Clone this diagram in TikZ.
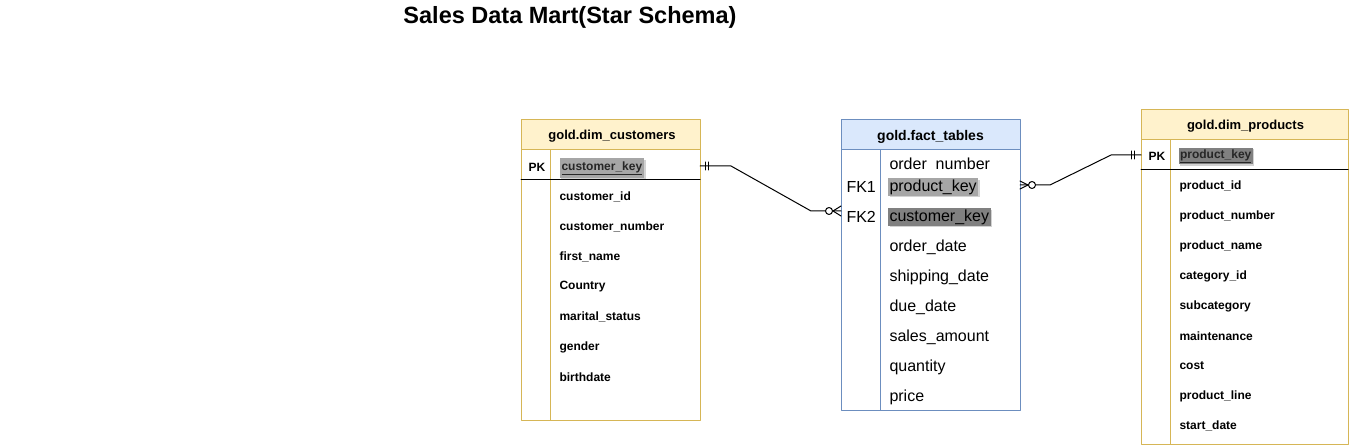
\documentclass[tikz,border=0pt]{standalone}
\usepackage{fontspec}
\setmainfont{Liberation Sans}
\usetikzlibrary{shadows}
\definecolor{dimline}{HTML}{D6B656}
\definecolor{dimfill}{HTML}{FFF2CC}
\definecolor{factline}{HTML}{6C8EBF}
\definecolor{factfill}{HTML}{DAE8FC}
\definecolor{keylight}{HTML}{A6A6A6}
\definecolor{keydark}{HTML}{808080}
\tikzset{
  every picture/.style={line join=round, line cap=round, line width=1pt},
  headtext/.style={inner sep=0pt,font=\fontsize{13}{15}\selectfont\bfseries},
  dimrow/.style={anchor=west,inner sep=0pt,font=\fontsize{12}{14}\selectfont\bfseries},
  factrow/.style={anchor=west,inner sep=0pt,font=\fontsize{16}{18}\selectfont},
  keymark/.style={inner sep=1.5pt,drop shadow={shadow xshift=1.5pt,shadow yshift=-1.5pt,opacity=0.35}},
}

\begin{document}
\begin{tikzpicture}[x=1pt,y=-1pt]
\useasboundingbox (0,0) rectangle (1351,446);
\node[font=\fontsize{23.5}{28}\selectfont\bfseries] (title) at (570,17) {Sales Data Mart(Star Schema)};

% gold.dim_customers
\draw[dimline,fill=dimfill] (521,120) rectangle (700,150);
\draw[dimline,fill=white] (521,150) rectangle (700,420);
\draw[dimline] (550,150) -- (550,420);
\draw (521,180) -- (700,180);
\node[headtext] (custhead) at (612,136) {gold.dim\_customers};
\node[dimrow] (custpklabel) at (528,167) {PK};
\node[dimrow,keymark,inner xsep=2pt,inner ysep=3pt,fill=keylight,text=black!85] (custkey) at (559,168) {\underline{customer\_key}};
\foreach \y/\t [count=\i] in {197/customer\_id,227/customer\_number,257/first\_name,287/Country,317/marital\_status,347/gender,377/birthdate}
  \node[dimrow] (cust-\i) at (559,\y) {\t};

% gold.fact_tables
\draw[factline,fill=factfill] (841,120) rectangle (1020,150);
\draw[factline,fill=white] (841,150) rectangle (1020,410);
\draw[factline] (880,150) -- (880,410);
\node[headtext,font=\fontsize{14}{16}\selectfont\bfseries] (facthead) at (930.5,137) {gold.fact\_tables};
\node[factrow] (fk1label) at (846,187) {FK1};
\node[factrow] (fk2label) at (846,217) {FK2};
\node[factrow] (fact-0) at (889,164) {order~~number};
\node[factrow,keymark,fill=keylight] (factprod) at (887.5,187) {product\_key};
\node[factrow,keymark,fill=keydark] (factcust) at (887.5,217) {customer\_key};
\foreach \y/\t [count=\i] in {247/order\_date,277/shipping\_date,307/due\_date,337/sales\_amount,367/quantity,397/price}
  \node[factrow] (fact-\i) at (889,\y) {\t};

% gold.dim_products
\draw[dimline,fill=dimfill] (1141,110) rectangle (1348,140);
\draw[dimline,fill=white] (1141,140) rectangle (1348,444);
\draw[dimline] (1170,140) -- (1170,444);
\draw (1141,170) -- (1348,170);
\node[headtext] (prodhead) at (1245.5,126) {gold.dim\_products};
\node[dimrow] (prodpklabel) at (1148,156) {PK};
\node[dimrow,keymark,fill=keydark,text=black!85] (prodkey) at (1178,156) {\underline{product\_key}};
\foreach \y/\t [count=\i] in {186/product\_id,216/product\_number,246/product\_name,276/category\_id,306/subcategory,336/maintenance,366/cost,396/product\_line,426/start\_date}
  \node[dimrow] (prod-\i) at (1179,\y) {\t};

% relationships
\coordinate (custpk) at (700,166);
\coordinate (factfk2) at (841,211);
\coordinate (factfk1) at (1020,185);
\coordinate (prodpk) at (1141,155);

\draw (custpk) -- ++(31,0) -- ([xshift=-30pt]factfk2) -- (factfk2);
\draw ([xshift=5pt]custpk) ++(0,-4) -- ++(0,8);
\draw ([xshift=8pt]custpk) ++(0,-4) -- ++(0,8);
\draw ([xshift=-8pt]factfk2) -- ([yshift=5pt]factfk2);
\draw ([xshift=-8pt]factfk2) -- ([yshift=-5pt]factfk2);
\draw[fill=white] ([xshift=-12pt]factfk2) circle[radius=3.5pt];

\draw (factfk1) -- ++(30,0) -- ([xshift=-30pt]prodpk) -- (prodpk);
\draw ([xshift=8pt]factfk1) -- ([yshift=4pt]factfk1);
\draw ([xshift=8pt]factfk1) -- ([yshift=-4pt]factfk1);
\draw[fill=white] ([xshift=12pt]factfk1) circle[radius=3.5pt];
\draw ([xshift=-10pt]prodpk) ++(0,-4) -- ++(0,8);
\draw ([xshift=-7pt]prodpk) ++(0,-4) -- ++(0,8);
\end{tikzpicture}
\end{document}
